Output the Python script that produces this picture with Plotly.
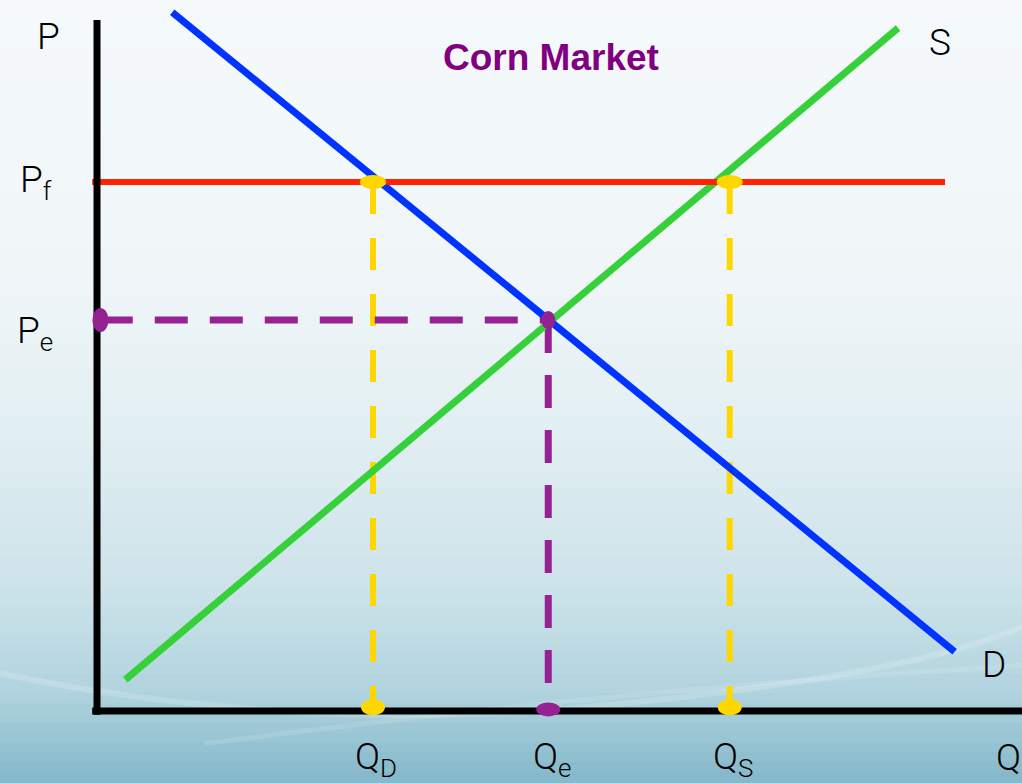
import plotly.graph_objects as go

# ---- data (chart units) ----
Q_D, Q_E, Q_S = 4.0, 6.54, 9.17
P_F, P_E = 10.0, 7.39
demand_q = [1.09, 12.43]
demand_p = [13.21, 1.12]
supply_q = [0.41, 11.61]
supply_p = [0.59, 12.91]
floor_q = [-0.07, 12.29]
axis_top = 13.06
axis_right = 13.5
q_labels = ["Q<sub>D</sub>", "Q<sub>e</sub>", "Q<sub>S</sub>"]

X_RANGE = [-1.406, 13.406]
Y_RANGE = [-1.361, 13.44]

fig = go.Figure()

# background gradient (paper space)
stops = [(0.0, (245, 249, 251)), (0.35, (240, 246, 248)), (0.55, (226, 239, 243)),
         (0.75, (205, 227, 234)), (0.88, (178, 212, 223)), (1.0, (132, 184, 202))]
def col(t):
    for (a, ca), (b, cb) in zip(stops[:-1], stops[1:]):
        if a <= t <= b:
            f = (t - a) / (b - a)
            return "rgb(%d,%d,%d)" % tuple(round(ca[i] + (cb[i] - ca[i]) * f) for i in range(3))
    return "rgb(%d,%d,%d)" % stops[-1][1]
N = 80
shapes = []
for i in range(N):
    t0, t1 = i / N, (i + 1) / N
    shapes.append(dict(type="rect", xref="paper", yref="paper", x0=0, x1=1,
                       y0=1 - t1, y1=1 - t0 + 0.002, fillcolor=col((t0 + t1) / 2),
                       line=dict(width=0), layer="below"))
# faint wave highlights near bottom
shapes.append(dict(type="path", xref="paper", yref="paper",
                   path="M 0,0.14 Q 0.3,0.06 0.6,0.1 T 1,0.2",
                   line=dict(color="rgba(255,255,255,0.18)", width=6), layer="below"))
shapes.append(dict(type="path", xref="paper", yref="paper",
                   path="M 0.2,0.05 Q 0.6,0.12 1,0.15",
                   line=dict(color="rgba(255,255,255,0.12)", width=5), layer="below"))

def line(x, y, color, width, dash=None):
    fig.add_trace(go.Scatter(x=x, y=y, mode="lines", hoverinfo="skip",
                             line=dict(color=color, width=width, dash=dash)))

YEL = "#ffd700"
PUR = "#952193"
# dashed guides
line([Q_D, Q_D], [P_F, 0], YEL, 6, "32px,24px")
line([Q_S, Q_S], [P_F, 0], YEL, 6, "32px,24px")
line([0.04, Q_E], [P_E, P_E], PUR, 7, "33px,22px")
line([Q_E, Q_E], [P_E, 0], PUR, 7, "33px,22px")
# curves
line(supply_q, supply_p, "#36d03a", 7)
line(demand_q, demand_p, "#0033ff", 7)
line(floor_q, [P_F, P_F], "#ff2200", 6)
# axes
line([0, 0], [axis_top, -0.07], "black", 7)
line([-0.07, axis_right], [0, 0], "black", 7)

def ell(q, p, w, h, color):
    shapes.append(dict(type="circle", xref="x", yref="y", xsizemode="pixel", ysizemode="pixel",
                       xanchor=q, yanchor=p, x0=-w / 2, x1=w / 2, y0=-h / 2, y1=h / 2,
                       fillcolor=color, line=dict(width=0), layer="above"))
ell(Q_D, P_F, 26, 14, YEL)
ell(Q_S, P_F, 26, 14, YEL)
ell(Q_D, 0.07, 24, 16, YEL)
ell(Q_S, 0.07, 24, 16, YEL)
ell(Q_E, 0.03, 24, 14, PUR)
ell(0.05, P_E, 16, 24, PUR)
ell(Q_E, P_E, 14, 18, PUR)

FONT = dict(family="Roboto, Liberation Sans", size=37, color="black", weight=300)
ann = []
def txt(x, y, s, xa="center", ya="middle", font=FONT, xref="x", yref="y"):
    ann.append(dict(x=x, y=y, text=s, showarrow=False, xanchor=xa, yanchor=ya,
                    font=font, xref=xref, yref=yref))
txt(-0.7, 12.75, "P")
txt(-0.88, P_F, "P<sub>f</sub>")
txt(-0.9, P_E - 0.25, "P<sub>e</sub>")
txt(12.22, 12.64, "S")
txt(13.0, 0.87, "D")
txt(13.0, -0.88, "Q", xa="left")
for q, s in zip([Q_D, Q_E, Q_S], q_labels):
    txt(q + 0.05, -0.9, s)
txt(0.539, 0.927, "<b>Corn Market</b>", xref="paper", yref="paper",
    font=dict(family="Liberation Sans Narrow, Liberation Sans", size=37, color="#800080"))

fig.update_layout(width=1022, height=783, margin=dict(l=0, r=0, t=0, b=0),
                  showlegend=False, paper_bgcolor="white", plot_bgcolor="rgba(0,0,0,0)",
                  shapes=shapes, annotations=ann,
                  xaxis=dict(range=X_RANGE, visible=False, fixedrange=True),
                  yaxis=dict(range=Y_RANGE, visible=False, fixedrange=True))
fig.write_html("out.html", config={"displayModeBar": False})
